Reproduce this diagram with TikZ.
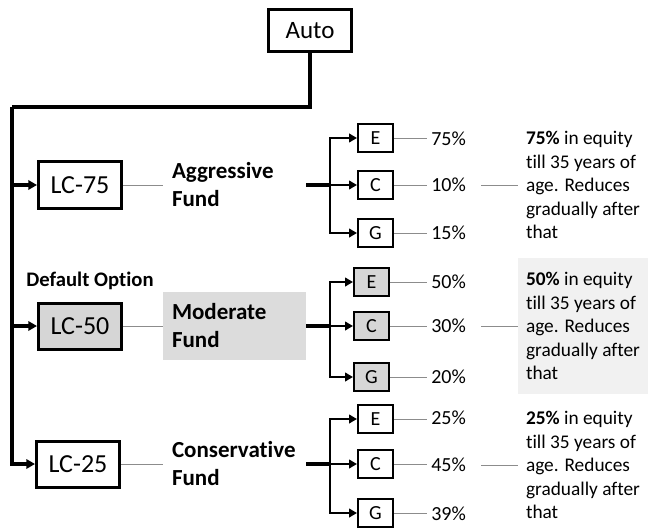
\documentclass[tikz,border=0pt]{standalone}
\usepackage{fontspec}
\setmainfont{Carlito}[Ligatures=CommonOff]
\usetikzlibrary{arrows.meta}
\definecolor{lcgray}{HTML}{D6D6D6}
\definecolor{fundgray}{HTML}{DCDCDC}
\definecolor{descgray}{HTML}{F1F1F1}
\definecolor{thingray}{HTML}{8C8C8C}
\tikzset{
  bigbox/.style={draw, line width=2.25pt, minimum width=62.25pt, minimum height=34.5pt, inner sep=0pt, font=\fontsize{19.5}{23}\selectfont},
  topbox/.style={bigbox, minimum height=31.5pt, font=\fontsize{18.75}{22}\selectfont},
  smallbox/.style={draw, line width=1.5pt, minimum width=26.25pt, minimum height=21pt, inner sep=0pt, font=\fontsize{15}{18}\selectfont},
  fund/.style={minimum width=107.25pt, minimum height=51pt, text width=93.75pt, align=left, inner xsep=6.75pt, inner ysep=0pt, font=\bfseries\fontsize{17.25}{21}\selectfont},
  pct/.style={anchor=west, inner xsep=3pt, inner ysep=0pt, font=\fontsize{15}{18}\selectfont},
  desc/.style={minimum width=97.5pt, minimum height=102pt, align=left, inner sep=0pt, font=\fontsize{14.5}{17.6}\selectfont},
  deflabel/.style={inner sep=0pt, font=\bfseries\fontsize{15.5}{18}\selectfont},
  thickline/.style={line width=2.4pt},
  thickarrow/.style={line width=2.4pt, -{Triangle[length=6.5pt,width=7pt]}},
  midarrow/.style={line width=2.1pt, -{Triangle[length=6pt,width=6.5pt]}},
  thinline/.style={line width=0.7pt, draw=thingray},
}
\begin{document}
\begin{tikzpicture}[x=0.75pt,y=-0.75pt]
\useasboundingbox (0,0) rectangle (648,527);

% top
\node[topbox] (auto) at (310,30.5) {Auto};
\node[bigbox] (lc75) at (80,185) {LC-75};
\node[bigbox, fill=lcgray] (lc50) at (80,326) {LC-50};
\node[bigbox] (lc25) at (78,464) {LC-25};
\node[deflabel] (def) at (90,281) {Default Option};

\coordinate (sp) at (12,107);
\draw[thickline] (auto.south) |- (sp);
\draw[thickarrow] (sp) |- (lc25.west);
\draw[thickarrow] (sp |- lc75.west) -- (lc75.west);
\draw[thickarrow] (sp |- lc50.west) -- (lc50.west);

% funds
\node[fund] (f75) at (234.5,185) {Aggressive\\Fund};
\node[fund, fill=fundgray] (f50) at (234.5,326) {Moderate\\Fund};
\node[fund] (f25) at (234.5,464) {Conservative\\Fund};
\draw[thinline] (lc75.east) -- (f75.west);
\draw[thinline] (lc50.east) -- (f50.west);
\draw[thinline] (lc25.east) -- (f25.west);

% E C G boxes
\node[smallbox] (e75) at (375.5,138) {E};
\node[smallbox] (c75) at (375.5,185) {C};
\node[smallbox] (g75) at (375.5,233) {G};
\node[smallbox, fill=lcgray] (e50) at (371.5,282) {E};
\node[smallbox, fill=lcgray] (c50) at (371.5,326) {C};
\node[smallbox, fill=lcgray] (g50) at (371.5,377) {G};
\node[smallbox] (e25) at (375.5,419) {E};
\node[smallbox] (c25) at (375.5,464) {C};
\node[smallbox] (g25) at (375.5,513) {G};

% branches
\coordinate (b75) at (330,185);
\coordinate (b50) at (330,326);
\coordinate (b25) at (330,464);
\draw[thickline] (f75.east) -- (b75);
\draw[thickline] (f50.east) -- (b50);
\draw[thickline] (f25.east) -- (b25);
\foreach \k in {75,50,25}{
  \draw[midarrow] (b\k) |- (e\k.west);
  \draw[midarrow] (b\k) -- (c\k.west);
  \draw[midarrow] (b\k) |- (g\k.west);
}

% percents
\node[pct] (pe75) at (427,139) {75\%};
\node[pct] (pc75) at (427,185) {10\%};
\node[pct] (pg75) at (427,233) {15\%};
\node[pct] (pe50) at (427,282) {50\%};
\node[pct] (pc50) at (427,326) {30\%};
\node[pct] (pg50) at (427,377) {20\%};
\node[pct] (pe25) at (427,418) {25\%};
\node[pct] (pc25) at (427,465) {45\%};
\node[pct] (pg25) at (427,514) {39\%};
\foreach \k in {75,50,25}{
  \draw[thinline] (e\k.east) -- (e\k.east -| pe\k.west);
  \draw[thinline] (c\k.east) -- (c\k.east -| pc\k.west);
  \draw[thinline] (g\k.east) -- (g\k.east -| pg\k.west);
}

% descriptions
\node[desc] (d75) at (583,185) {\textbf{75\%} in equity\\till 35 years of\\age. Reduces\\gradually after\\that};
\node[desc, fill=descgray] (d50) at (583,326) {\textbf{50\%} in equity\\till 35 years of\\age. Reduces\\gradually after\\that};
\node[desc] (d25) at (583,465) {\textbf{25\%} in equity\\till 35 years of\\age. Reduces\\gradually after\\that};
\draw[thinline] ([xshift=8.25pt]pc75.east) -- (d75.west);
\draw[thinline] ([xshift=8.25pt]pc50.east) -- (d50.west);
\draw[thinline] ([xshift=8.25pt]pc25.east) -- (d25.west);
\end{tikzpicture}
\end{document}
